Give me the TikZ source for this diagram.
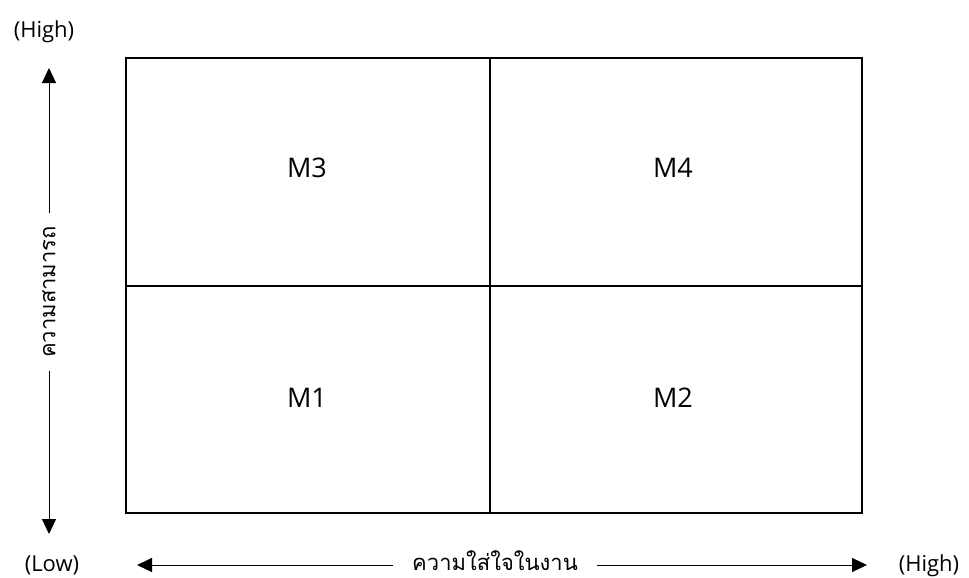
\documentclass[tikz,border=0pt]{standalone}
\usepackage{fontspec}
\setmainfont{Open Sans}
\newfontfamily\thaifont[Script=Thai]{Loma}
\newfontfamily\latinfont{Open Sans}
\usetikzlibrary{arrows.meta}
\begin{document}
\begin{tikzpicture}[x=1pt,y=-1pt,
  gridline/.style={line width=1.6pt},
  axis/.style={line width=1pt},
  arr/.style={axis,-{Triangle[length=15pt,width=14pt]}},
  lbl/.style={font=\fontsize{22}{26}\selectfont\latinfont, inner sep=0pt, anchor=base},
  thlbl/.style={font=\fontsize{22}{26}\selectfont\thaifont, inner ysep=0pt},
  cell/.style={font=\fontsize{27}{32}\selectfont\latinfont, inner sep=0pt}]
\useasboundingbox (0,0) rectangle (969,578);
% grid
\draw[gridline] (126,58) rectangle (862,513);
\draw[gridline] (490,58) -- (490,513);
\draw[gridline] (126,286) -- (862,286);
\node[cell] (m3) at (307,168) {M3};
\node[cell] (m4) at (673,168) {M4};
\node[cell] (m1) at (307,398) {M1};
\node[cell] (m2) at (673,398) {M2};
% vertical axis
\node[lbl] (hightop) at (44,38) {(High)};
\node[lbl] (low) at (52,571) {(Low)};
\node[thlbl, rotate=90, inner xsep=13pt] (ability) at (49,292) {ความสามารถ};
\coordinate (vtop) at (49,68);
\coordinate (vbot) at (49,534);
\draw[arr] (ability.east) -- (vtop);
\draw[arr] (ability.west) -- (vbot);
% horizontal axis
\node[thlbl, inner xsep=19pt, anchor=base] (engage) at (495,570) {ความใส่ใจในงาน};
\node[lbl] (highright) at (929,571) {(High)};
\coordinate (hleft) at (137,565);
\coordinate (hright) at (867,565);
\draw[arr] (engage.west |- hleft) -- (hleft);
\draw[arr] (engage.east |- hright) -- (hright);
\end{tikzpicture}
\end{document}
